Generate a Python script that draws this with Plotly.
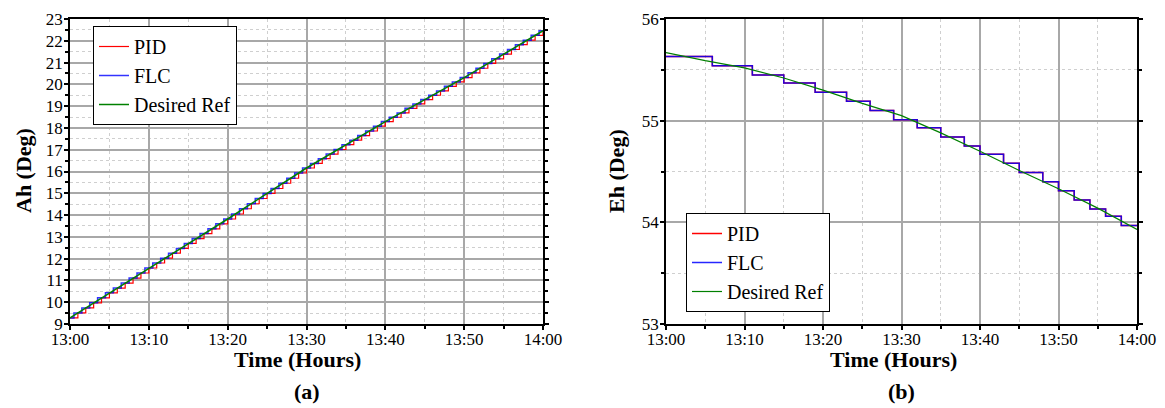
import plotly.graph_objects as go

# ---------------- data ----------------
tick_vals = [0, 10, 20, 30, 40, 50, 60]
tick_text = ["13:00", "13:10", "13:20", "13:30", "13:40", "13:50", "14:00"]

# (a) azimuth
ah_minutes = list(range(61))
ah_levels = [9.28, 9.51, 9.74, 9.97, 10.20, 10.43, 10.65, 10.88, 11.11, 11.34,
             11.57, 11.80, 12.02, 12.25, 12.47, 12.70, 12.92, 13.15, 13.37, 13.60,
             13.82, 14.05, 14.29, 14.52, 14.76, 14.99, 15.22, 15.46, 15.69, 15.93,
             16.16, 16.37, 16.59, 16.80, 17.01, 17.23, 17.44, 17.65, 17.86, 18.08,
             18.29, 18.49, 18.69, 18.90, 19.10, 19.30, 19.50, 19.70, 19.91, 20.11,
             20.31, 20.53, 20.74, 20.96, 21.17, 21.39, 21.60, 21.82, 22.03, 22.25,
             22.46]
ah_ref_t = [0, 10, 20, 30, 40, 50, 60]
ah_ref = [9.28, 11.57, 13.82, 16.16, 18.29, 20.31, 22.46]

# (b) elevation
eh_step_t = [0, 5.9, 11, 15, 19, 23, 26, 29, 32, 35, 38, 40, 43, 45, 48, 50, 52, 54, 56, 58, 60]
eh_flc = [55.63, 55.54, 55.45, 55.37, 55.28, 55.19, 55.10, 55.01, 54.93, 54.84, 54.75,
          54.67, 54.58, 54.49, 54.40, 54.31, 54.22, 54.13, 54.06, 53.97, 53.97]
eh_pid = [55.63, 55.54, 55.45, 55.37, 55.28, 55.19, 55.10, 55.01, 54.93, 54.84, 54.75,
          54.67, 54.58, 54.49, 54.40, 54.31, 54.22, 54.13, 54.06, 53.97, 53.97]
eh_ref_t = [0, 5, 10, 15, 20, 25, 30, 35, 40, 45, 50, 55, 60]
eh_ref = [55.67, 55.59, 55.52, 55.42, 55.30, 55.17, 55.05, 54.88, 54.70, 54.51, 54.33, 54.14, 53.93]

# ---------------- styles ----------------
FONT = "Liberation Serif"
RED = "#ff0000"
BLUE = "#0000ff"
GREEN = "#008000"

W, H = 1165, 408


def px(x):
    return x / W


def py(y):
    return 1 - y / H


fig = go.Figure()

# left panel
fig.add_trace(go.Scatter(x=ah_minutes, y=ah_levels, mode="lines", name="PID",
                         line=dict(color=RED, width=1.2, shape="hv"),
                         xaxis="x", yaxis="y", legend="legend"))
fig.add_trace(go.Scatter(x=ah_minutes, y=ah_levels, mode="lines", name="FLC",
                         line=dict(color=BLUE, width=1.5, shape="hvh"), opacity=0.8,
                         xaxis="x", yaxis="y", legend="legend"))
fig.add_trace(go.Scatter(x=ah_ref_t, y=ah_ref, mode="lines", name="Desired Ref",
                         line=dict(color=GREEN, width=1.5),
                         xaxis="x", yaxis="y", legend="legend"))

# right panel
fig.add_trace(go.Scatter(x=eh_step_t, y=eh_pid, mode="lines", name="PID",
                         line=dict(color=RED, width=1.5, shape="hv"),
                         xaxis="x2", yaxis="y2", legend="legend2"))
fig.add_trace(go.Scatter(x=eh_step_t, y=eh_flc, mode="lines", name="FLC",
                         line=dict(color=BLUE, width=1.5, shape="hv"), opacity=0.85,
                         xaxis="x2", yaxis="y2", legend="legend2"))
fig.add_trace(go.Scatter(x=eh_ref_t, y=eh_ref, mode="lines", name="Desired Ref",
                         line=dict(color=GREEN, width=1.2),
                         xaxis="x2", yaxis="y2", legend="legend2"))

ytop = py(19)
ybot = py(324)

common_x = dict(range=[0, 60], tickmode="array", tickvals=tick_vals, ticktext=tick_text,
                automargin=False, ticklabelstandoff=-5,
                showgrid=True, gridcolor="#a8a8a8", gridwidth=1.5,
                minor=dict(dtick=5, tick0=0, showgrid=True, gridcolor="#cfcfcf",
                           griddash="dot", gridwidth=1, ticks="outside", ticklen=3,
                           tickcolor="black"),
                ticks="outside", ticklen=4, tickwidth=1.5, tickcolor="black",
                showline=True, linecolor="black", linewidth=1.5, mirror=True,
                zeroline=False, tickfont=dict(family=FONT, size=17, color="black"))
common_y = dict(showgrid=True, gridcolor="#a8a8a8", gridwidth=1.5, dtick=1,
                automargin=False, ticklabelstandoff=-2,
                ticks="outside", ticklen=4, tickwidth=1.5, tickcolor="black",
                showline=True, linecolor="black", linewidth=1.5, mirror="ticks",
                zeroline=False, tickfont=dict(family=FONT, size=17, color="black"))

legend_common = dict(bgcolor="white", bordercolor="black", borderwidth=1,
                     font=dict(family=FONT, size=20, color="black"),
                     xanchor="left", yanchor="top", tracegroupgap=0)

fig.update_layout(
    width=W, height=H,
    margin=dict(l=0, r=0, t=0, b=0, autoexpand=False),
    paper_bgcolor="white", plot_bgcolor="white",
    font=dict(family=FONT, color="black"),
    xaxis=dict(domain=[px(70), px(543)], anchor="y", **common_x),
    yaxis=dict(domain=[ybot, ytop], anchor="x", range=[9, 23],
               minor=dict(dtick=0.5, tick0=9, showgrid=True, gridcolor="#cfcfcf",
                          griddash="dot", gridwidth=1, ticks="outside", ticklen=3,
                          tickcolor="black"),
               **common_y),
    xaxis2=dict(domain=[px(666), px(1137)], anchor="y2", **common_x),
    yaxis2=dict(domain=[ybot, ytop], anchor="x2", range=[53, 56],
                minor=dict(dtick=0.5, tick0=53, showgrid=True, gridcolor="#cfcfcf",
                           griddash="dot", gridwidth=1, ticks="outside", ticklen=3,
                           tickcolor="black"),
                **common_y),
    legend=dict(x=px(93), y=py(26), **legend_common),
    legend2=dict(x=px(686), y=py(213), **legend_common),
    showlegend=True,
)

ann_font_b = dict(family=FONT, size=22, color="black")
anns = [
    dict(text="<b>Time (Hours)</b>", x=px(297), y=py(359)),
    dict(text="<b>Time (Hours)</b>", x=px(893), y=py(359)),
    dict(text="<b>(a)</b>", x=px(307), y=py(391)),
    dict(text="<b>(b)</b>", x=px(901), y=py(391)),
    dict(text="<b>Ah (Deg)</b>", x=px(23), y=py(171), textangle=-90),
    dict(text="<b>Eh (Deg)</b>", x=px(616), y=py(171), textangle=-90),
]
for a in anns:
    fig.add_annotation(xref="paper", yref="paper", xanchor="center", yanchor="middle",
                       showarrow=False, font=ann_font_b, **a)

# remove the default 8px page margin so the figure fills the window exactly
fig.write_html("out.html",
               config={"displayModeBar": False},
               post_script="document.body.style.margin='0';document.body.style.overflow='hidden';")
